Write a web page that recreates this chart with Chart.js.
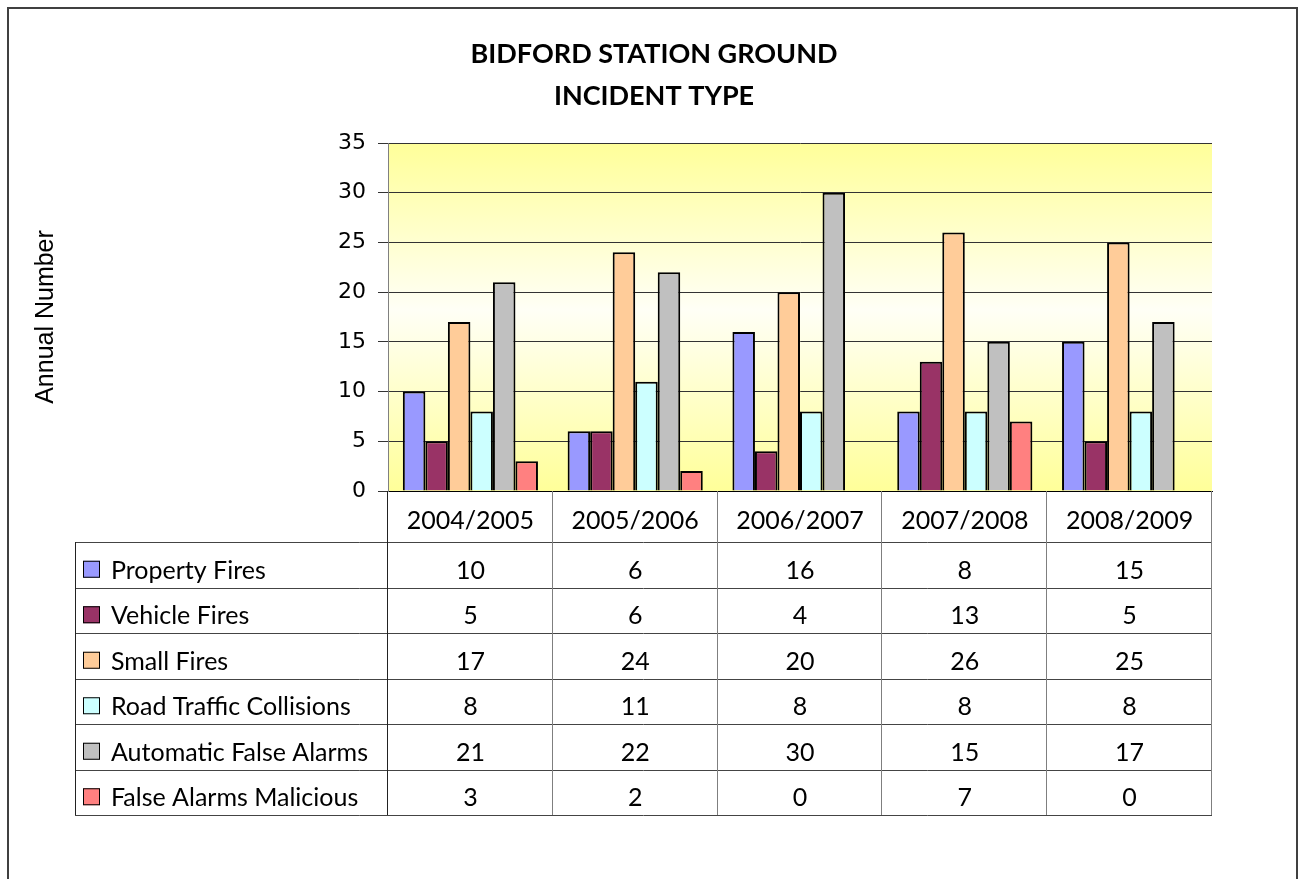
<!DOCTYPE html>
<html>
<head>
<meta charset="utf-8">
<script src="https://cdn.jsdelivr.net/npm/chart.js@4/dist/chart.umd.min.js"></script>
<style>
  body { margin: 0; background: #fff; }
  #wrap { width: 1301px; height: 879px; position: relative; }
</style>
</head>
<body>
<div id="wrap"><canvas id="incidentChart"></canvas></div>
<script>
var categories = ['2004/2005', '2005/2006', '2006/2007', '2007/2008', '2008/2009'];
var propertyFires = [10, 6, 16, 8, 15];
var vehicleFires = [5, 6, 4, 13, 5];
var smallFires = [17, 24, 20, 26, 25];
var roadTrafficCollisions = [8, 11, 8, 8, 8];
var automaticFalseAlarms = [21, 22, 30, 15, 17];
var falseAlarmsMalicious = [3, 2, 0, 7, 0];
var titleLines = ['BIDFORD STATION GROUND', 'INCIDENT TYPE'];
var yMin = 0, yMax = 35, yStep = 5;

var tableFont = '25px Lato';

// yellow plot background, outer frame and the title (centred on the frame)
var backdrop = {
    id: 'backdrop',
    beforeDraw: function(chart) {
        var ctx = chart.ctx, a = chart.chartArea;
        ctx.save();
        var g = ctx.createLinearGradient(0, a.top, 0, a.bottom);
        g.addColorStop(0, '#FFFF99');
        g.addColorStop(0.48, '#FFFFF6');
        g.addColorStop(1, '#FFFF99');
        ctx.fillStyle = g;
        ctx.fillRect(a.left, a.top, a.right - a.left, a.bottom - a.top);
        ctx.restore();
    },
    afterDraw: function(chart) {
        var ctx = chart.ctx;
        ctx.save();
        ctx.strokeStyle = '#404040';
        ctx.lineWidth = 2;
        ctx.strokeRect(8, 8, 1289, 900);
        ctx.fillStyle = '#000';
        ctx.font = 'bold 27px Lato';
        ctx.textAlign = 'center';
        ctx.textBaseline = 'middle';
        titleLines.forEach(function(t, i) {
            ctx.fillText(t, 654, 54 + i * 42);
        });
        ctx.restore();
    }
};

// data table under the plot, columns follow the x scale
var dataTable = {
    id: 'dataTable',
    afterDraw: function(chart) {
        var ctx = chart.ctx;
        var x = chart.scales.x;
        var top = chart.chartArea.bottom;
        var headBottom = top + 51;
        var rowH = 45.5;
        var sets = chart.data.datasets;
        var bottom = headBottom + rowH * sets.length;
        var tableLeft = 75;
        var colW = (x.right - x.left) / categories.length;

        ctx.save();
        ctx.lineWidth = 1;

        // horizontal lines
        ctx.strokeStyle = '#444';
        for (var r = 0; r <= sets.length; r++) {
            var y = Math.round(headBottom + r * rowH) + 0.5;
            ctx.beginPath();
            ctx.moveTo(tableLeft, y);
            ctx.lineTo(x.right, y);
            ctx.stroke();
        }
        // vertical lines
        ctx.strokeStyle = '#222';
        ctx.beginPath();
        ctx.moveTo(tableLeft + 0.5, headBottom);
        ctx.lineTo(tableLeft + 0.5, bottom);
        ctx.stroke();
        for (var c = 0; c <= categories.length; c++) {
            var vx = Math.round(x.left + c * colW) - 0.5;
            ctx.strokeStyle = c === 0 ? '#222' : '#7f7f7f';
            ctx.beginPath();
            ctx.moveTo(vx, top);
            ctx.lineTo(vx, bottom);
            ctx.stroke();
        }

        ctx.fillStyle = '#000';
        ctx.font = tableFont;
        ctx.textBaseline = 'middle';
        ctx.textAlign = 'center';
        categories.forEach(function(cat, i) {
            ctx.fillText(cat, x.getPixelForValue(i), (top + headBottom) / 2 + 4);
        });

        sets.forEach(function(ds, r) {
            var cy = headBottom + r * rowH + rowH / 2 + 6;
            // legend key
            ctx.fillStyle = ds.backgroundColor;
            ctx.fillRect(83, cy - 10, 17, 17);
            ctx.strokeStyle = '#000';
            ctx.strokeRect(83.5, cy - 9.5, 16, 16);
            ctx.fillStyle = '#000';
            ctx.textAlign = 'left';
            ctx.fillText(ds.label, 111, cy);
            ctx.textAlign = 'center';
            ds.data.forEach(function(v, i) {
                ctx.fillText(String(v), x.getPixelForValue(i), cy);
            });
        });
        ctx.restore();
    }
};

function bars(label, data, color) {
    return {
        label: label,
        data: data,
        backgroundColor: color,
        borderColor: '#000',
        borderWidth: 2,
        borderSkipped: 'bottom',
        barPercentage: 1,
        categoryPercentage: 0.82
    };
}

var ctx = document.getElementById('incidentChart').getContext('2d');
var incidentChart = new Chart(ctx, {
    type: 'bar',
    data: {
        labels: categories,
        datasets: [
            bars('Property Fires', propertyFires, '#9999FF'),
            bars('Vehicle Fires', vehicleFires, '#993366'),
            bars('Small Fires', smallFires, '#FFCC99'),
            bars('Road Traffic Collisions', roadTrafficCollisions, '#CCFFFF'),
            bars('Automatic False Alarms', automaticFalseAlarms, '#C0C0C0'),
            bars('False Alarms Malicious', falseAlarmsMalicious, '#FF8080')
        ]
    },
    options: {
        responsive: true,
        maintainAspectRatio: false,
        animation: false,
        layout: {
            padding: { left: 31, right: 89, top: 143, bottom: 388 }
        },
        plugins: {
            legend: { display: false },
            tooltip: { enabled: false },
            title: { display: false }
        },
        scales: {
            x: {
                ticks: { display: false },
                grid: { display: false },
                border: { display: true, color: '#000' },
                afterFit: function(s) { s.height = 0; }
            },
            y: {
                min: yMin,
                max: yMax,
                ticks: {
                    stepSize: yStep,
                    color: '#000',
                    padding: 12,
                    font: { family: 'DejaVu Sans', size: 22 }
                },
                grid: { color: '#333', tickLength: 10 },
                border: { color: '#808080' },
                title: {
                    display: true,
                    text: 'Annual Number',
                    color: '#000',
                    padding: 0,
                    font: { family: 'Liberation Sans', size: 25 }
                },
                afterFit: function(s) { s.width = 388 - 31; }
            }
        }
    },
    plugins: [backdrop, dataTable]
});
</script>
</body>
</html>
